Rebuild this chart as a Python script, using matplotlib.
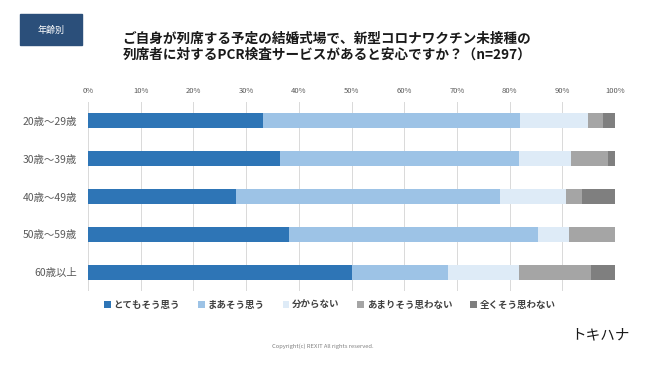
import numpy as np
import matplotlib
matplotlib.use('Agg')
import matplotlib.pyplot as plt
from matplotlib.patches import Rectangle

plt.rcParams['font.family'] = ['Noto Sans CJK JP', 'DejaVu Sans']

# data (percent)
ages = ['20歳～29歳', '30歳～39歳', '40歳～49歳', '50歳～59歳', '60歳以上']
labels = ['とてもそう思う', 'まあそう思う', '分からない', 'あまりそう思わない', '全くそう思わない']
very = [33.2, 36.5, 28.0, 38.2, 50.0]
fairly = [48.7, 45.2, 50.2, 47.1, 18.3]
unknown = [12.9, 9.9, 12.5, 5.9, 13.5]
not_much = [3.0, 7.0, 3.1, 8.8, 13.7]
not_at_all = [2.2, 1.4, 6.2, 0.0, 4.5]
ticks = [0, 10, 20, 30, 40, 50, 60, 70, 80, 90, 100]

colors = ['#2E75B6', '#9DC3E6', '#DEEBF7', '#A5A5A5', '#7F7F7F']

W, H = 650, 366
fig = plt.figure(figsize=(W / 100, H / 100), dpi=100)
fig.patch.set_facecolor('white')

ax = fig.add_axes([88 / W, 1 - 291 / H, 527 / W, 189 / H])
y = np.arange(len(ages))
left = np.zeros(len(ages))
for vals, c, lab in zip([very, fairly, unknown, not_much, not_at_all], colors, labels):
    ax.barh(y, vals, left=left, height=0.4, color=c, label=lab, zorder=3)
    left += np.array(vals)

ax.set_xlim(0, 100)
ax.set_ylim(4.5, -0.5)
ax.set_yticks(y)
ax.set_yticklabels(ages, fontsize=7.5, color='#595959')
ax.set_xticks(ticks)
ax.set_xticklabels([f'{t}%' for t in ticks], fontsize=5.5, color='#595959')
ax.xaxis.tick_top()
ax.tick_params(axis='both', length=0)
ax.tick_params(axis='x', pad=5)
ax.tick_params(axis='y', pad=8)
ax.grid(axis='x', color='#D9D9D9', linewidth=0.7, zorder=0)
for s in ax.spines.values():
    s.set_visible(False)

leg = fig.legend(*ax.get_legend_handles_labels(), loc='center', ncol=5,
                 bbox_to_anchor=(330 / W, 1 - 305 / H), frameon=False,
                 fontsize=6.8, handlelength=0.7, handleheight=0.7,
                 columnspacing=1.9, handletextpad=0.3)
for t in leg.get_texts():
    t.set_fontweight('bold')
    t.set_color('#404040')

# tag box
fig.patches.append(Rectangle((20 / W, 1 - 45 / H), 62 / W, 31 / H,
                             transform=fig.transFigure, color='#2B4F7A'))
fig.text(51 / W, 1 - 30 / H, '年齢別', color='white', fontsize=6.5,
         ha='center', va='center')

fig.text(327 / W, 1 - 47 / H,
         'ご自身が列席する予定の結婚式場で、新型コロナワクチン未接種の\n'
         '列席者に対するPCR検査サービスがあると安心ですか？（n=297）',
         ha='center', va='center', fontsize=9.8, fontweight='bold',
         linespacing=1.15, color='#1a1a1a')

fig.text(600 / W, 1 - 335 / H, 'トキハナ', ha='center', va='center',
         fontsize=10.5, color='#1a1a1a')
fig.text(323 / W, 1 - 346 / H, 'Copyright(c) REXIT All rights reserved.',
         ha='center', va='center', fontsize=4.2, color='#808080')

fig.savefig('out.png', dpi=100)
